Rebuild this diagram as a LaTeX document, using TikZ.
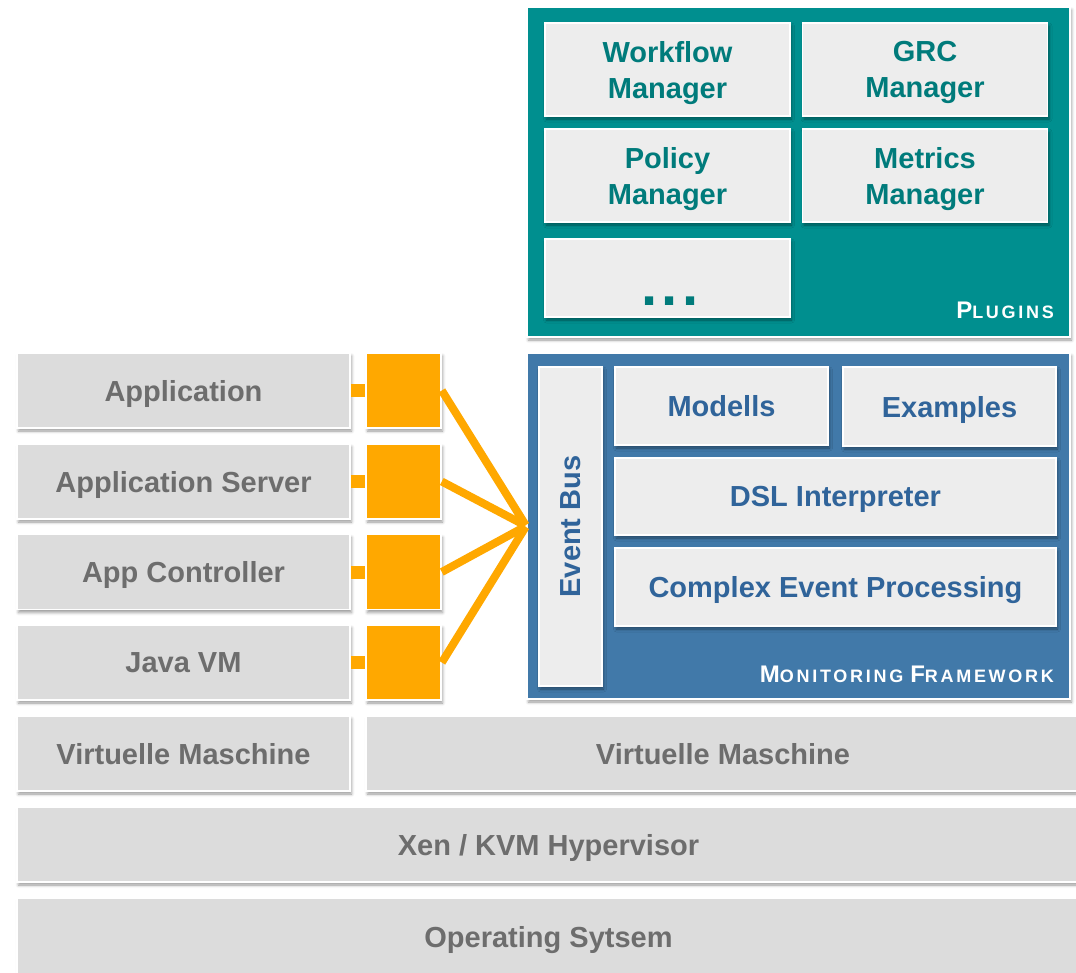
\documentclass[tikz,border=0pt]{standalone}
\usepackage{fontspec}
\setmainfont{Liberation Sans}
\usetikzlibrary{positioning,shadows.blur}

\definecolor{layergray}{HTML}{DCDCDC}
\definecolor{layerink}{HTML}{6D6D6D}
\definecolor{pluginteal}{HTML}{008F8F}
\definecolor{pluginink}{HTML}{007B7B}
\definecolor{monblue}{HTML}{4179A9}
\definecolor{monink}{HTML}{30649A}
\definecolor{innerfill}{HTML}{EDEDED}
\definecolor{hookorange}{HTML}{FFA800}

% fake small caps for the frame captions
\newcommand{\capword}[2]{{\fontsize{24}{24}\selectfont #1}{\fontsize{18}{18}\selectfont #2}}

\tikzset{
  boxbase/.style={draw=white, line width=1.6pt, inner sep=0pt, align=center,
    font=\bfseries\fontsize{29}{36}\selectfont, text depth=0pt,
    blur shadow={shadow xshift=1.5pt, shadow yshift=-3pt, shadow blur radius=3pt, shadow opacity=40}},
  layer/.style={boxbase, fill=layergray, text=layerink, minimum height=75pt},
  hook/.style={boxbase, fill=hookorange, minimum width=75pt, minimum height=75pt},
  frame/.style={boxbase, minimum width=543pt},
  plugin/.style={boxbase, fill=innerfill, text=pluginink, minimum width=245pt},
  part/.style={boxbase, fill=innerfill, text=monink},
  caption/.style={anchor=base east, text=white, inner sep=0pt,
    font=\bfseries\addfontfeature{LetterSpace=15}},
  hookstub/.style={draw=hookorange, line width=13pt},
  wire/.style={draw=hookorange, line width=8pt, shorten >=1pt}
}

\begin{document}
\begin{tikzpicture}[x=1pt, y=-1pt]
  \useasboundingbox (0,0) rectangle (1076,972);

  % plugin frame
  \node[frame, fill=pluginteal, minimum height=330pt] (plugins) at (798.5,172) {};
  \node[plugin, minimum height=93pt] (workflow) at (667.5,69.5) {Workflow\\Manager};
  \node[plugin, minimum height=93pt] (grc) at (925,69.5) {GRC\\Manager};
  \node[plugin, minimum height=93pt] (policy) at (667.5,175.5) {Policy\\Manager};
  \node[plugin, minimum height=93pt] (metrics) at (925,175.5) {Metrics\\Manager};
  \node[plugin, minimum height=78pt] (more) at (667.5,278) {};
  \node[text=pluginink, anchor=base, inner sep=0pt,
    font=\bfseries\fontsize{58}{58}\selectfont\addfontfeature{LetterSpace=8}] (dots) at (670,305) {...};
  \node[caption] (pluginlabel) at (1054,318) {\capword{P}{LUGINS}};

  % monitoring frame
  \node[frame, fill=monblue, minimum height=346pt] (monitor) at (798.5,526) {};
  \node[part, minimum width=63pt, minimum height=319pt] (bus) at (570.5,526.5) {\rotatebox{90}{Event Bus}};
  \node[part, minimum width=213pt, minimum height=78pt] (modells) at (721.5,406) {Modells};
  \node[part, minimum width=213pt, minimum height=79pt] (examples) at (949.5,406.5) {Examples};
  \node[part, minimum width=441pt, minimum height=77pt] (dsl) at (835.5,496.5) {DSL Interpreter};
  \node[part, minimum width=441pt, minimum height=78pt] (cep) at (835.5,587) {Complex Event Processing};
  \node[caption] (monitorlabel) at (1054,682) {\capword{M}{ONITORING}\hspace{7pt}\capword{F}{RAMEWORK}};

  % monitored stack with its hooks
  \node[layer, minimum width=333pt] (app) at (183.5,390.5) {Application};
  \node[layer, minimum width=333pt] (appserver) at (183.5,481.5) {Application Server};
  \node[layer, minimum width=333pt] (ctrl) at (183.5,572) {App Controller};
  \node[layer, minimum width=333pt] (jvm) at (183.5,662.5) {Java VM};

  \node[hook] (apphook) at (403.5,390.5) {};
  \node[hook] (serverhook) at (403.5,481.5) {};
  \node[hook] (ctrlhook) at (403.5,572) {};
  \node[hook] (jvmhook) at (403.5,662.5) {};

  \draw[hookstub] (app) -- (apphook);
  \draw[hookstub] (appserver) -- (serverhook);
  \draw[hookstub] (ctrl) -- (ctrlhook);
  \draw[hookstub] (jvm) -- (jvmhook);

  \draw[wire] (apphook.east) -- (monitor.west);
  \draw[wire] (serverhook.east) -- (monitor.west);
  \draw[wire] (ctrlhook.east) -- (monitor.west);
  \draw[wire] (jvmhook.east) -- (monitor.west);

  % virtualisation layers
  \node[layer, minimum width=333pt] (vmleft) at (183.5,753.5) {Virtuelle Maschine};
  \node[layer, minimum width=714pt] (vmright) at (723,753.5) {Virtuelle Maschine};
  \node[layer, minimum width=1063pt] (hypervisor) at (548.5,844.5) {Xen / KVM Hypervisor};
  \node[layer, minimum width=1063pt, minimum height=77pt] (os) at (548.5,936.5) {Operating Sytsem};
\end{tikzpicture}
\end{document}
